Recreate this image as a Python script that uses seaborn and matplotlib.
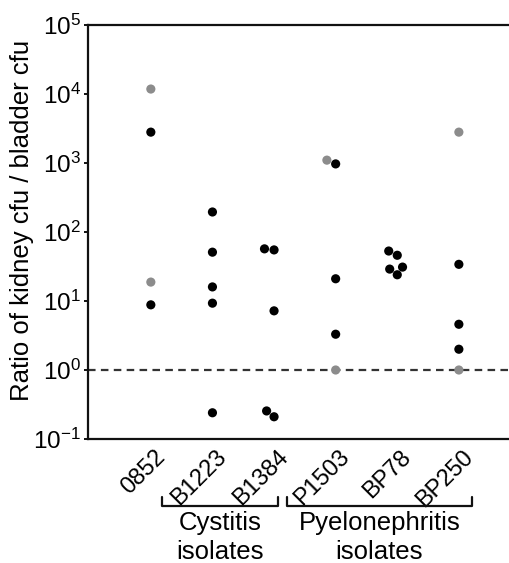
import numpy as np
import pandas as pd
import matplotlib
matplotlib.use("Agg")
import matplotlib.pyplot as plt
import matplotlib.transforms as mtransforms
import seaborn as sns

# strains and kidney/bladder cfu ratios
strains = ["0852", "B1223", "B1384", "P1503", "BP78", "BP250"]
ratios = {
    "0852": [11800, 2800, 18.8, 8.8],
    "B1223": [195, 51, 16, 9.3, 0.24],
    "B1384": [55, 57, 7.2, 0.255, 0.21],
    "P1503": [970, 1100, 21, 3.3, 1.0],
    "BP78": [53, 46, 29, 31, 24],
    "BP250": [2800, 34, 4.6, 2.0, 1.0],
}
# grey dots: bladder cfu at detection limit
below_limit = {
    "0852": [True, False, True, False],
    "B1223": [False] * 5,
    "B1384": [False] * 5,
    "P1503": [False, True, False, False, True],
    "BP78": [False] * 5,
    "BP250": [True, False, False, False, True],
}
groups = ["Cystitis\nisolates", "Pyelonephritis\nisolates"]
group_members = [["B1223", "B1384"], ["P1503", "BP78", "BP250"]]
ytick_values = [1e-1, 1e0, 1e1, 1e2, 1e3, 1e4, 1e5]

rows = []
for s in strains:
    for r, b in zip(ratios[s], below_limit[s]):
        rows.append({"strain": s, "ratio": r, "limit": "grey" if b else "black"})
df = pd.DataFrame(rows)

sns.set_style("white")
plt.rcParams["font.family"] = ["Liberation Sans", "DejaVu Sans"]
plt.rcParams["mathtext.fontset"] = "custom"
plt.rcParams["mathtext.rm"] = "Liberation Sans"
plt.rcParams["mathtext.it"] = "Liberation Sans:italic"
plt.rcParams["mathtext.default"] = "regular"
plt.rcParams["text.color"] = "black"
plt.rcParams["axes.labelcolor"] = "black"
plt.rcParams["xtick.color"] = "black"
plt.rcParams["ytick.color"] = "black"

fig = plt.figure(figsize=(5.1, 5.63), dpi=100)
ax = fig.add_axes([88 / 510, 1 - 439 / 563, 422 / 510, 414 / 563])
ax.set_yscale("log")
ax.set_ylim(1e-1, 1e5)
ax.set_xlim(-1.02, 5.83)

sns.swarmplot(data=df, x="strain", y="ratio", hue="limit", order=strains,
              hue_order=["black", "grey"],
              palette={"black": "#000000", "grey": "#8c8c8c"},
              size=6.6, linewidth=0, legend=False, ax=ax)
ax.set_ylim(1e-1, 1e5)
ax.set_xlim(-1.02, 5.83)

ax.axhline(1.0, color="#333333", lw=1.6, ls=(0, (3.4, 2.4)), zorder=0)

for side in ["left", "bottom", "top"]:
    ax.spines[side].set_visible(True)
    ax.spines[side].set_linewidth(1.6)
    ax.spines[side].set_color("#111111")
ax.spines["right"].set_visible(False)

ax.set_yticks(ytick_values)
ax.yaxis.set_minor_locator(matplotlib.ticker.NullLocator())
ax.tick_params(axis="y", which="major", direction="out", length=3, width=1.4,
               left=True, labelsize=17.5, pad=2, color="#111111")
ax.tick_params(axis="x", length=0, pad=5, labelsize=17)
ax.set_xlabel("")
ax.set_ylabel("Ratio of kidney cfu / bladder cfu", fontsize=18.5)
ax.yaxis.set_label_coords(-0.128, 0.527)

offset = mtransforms.ScaledTranslation(3 / 100, 0, fig.dpi_scale_trans)
for lab in ax.get_xticklabels():
    lab.set_rotation(45)
    lab.set_ha("right")
    lab.set_va("top")
    lab.set_rotation_mode("anchor")
    lab.set_transform(lab.get_transform() + offset)

# group brackets under the tick labels
trans = mtransforms.blended_transform_factory(ax.transData, ax.transAxes)
bracket_pad = [(0.82, 0.06), (0.79, 0.21)]
for name, members, (lp, rp) in zip(groups, group_members, bracket_pad):
    x0 = strains.index(members[0]) - lp
    x1 = strains.index(members[-1]) + rp
    ax.plot([x0, x0, x1, x1], [-0.140, -0.162, -0.162, -0.140], color="#111111",
            lw=1.6, transform=trans, clip_on=False)
    ax.text((x0 + x1) / 2, -0.174, name, transform=trans, ha="center", va="top",
            fontsize=18.5, linespacing=1.25)

fig.savefig("out.png", dpi=100)
